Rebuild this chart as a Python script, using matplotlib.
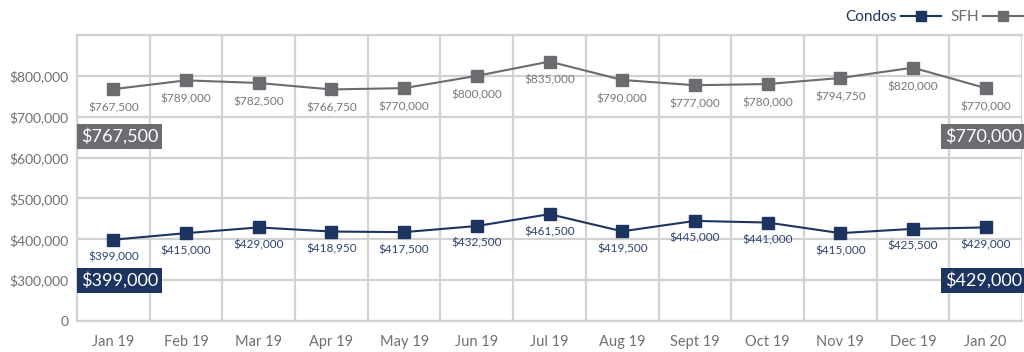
import numpy as np
import matplotlib
matplotlib.use("Agg")
import matplotlib.pyplot as plt
from matplotlib.lines import Line2D
import matplotlib.transforms as mtransforms

months = ["Jan 19", "Feb 19", "Mar 19", "Apr 19", "May 19", "Jun 19", "Jul 19",
          "Aug 19", "Sept 19", "Oct 19", "Nov 19", "Dec 19", "Jan 20"]
condos = [399000, 415000, 429000, 418950, 417500, 432500, 461500,
          419500, 445000, 441000, 415000, 425500, 429000]
sfh = [767500, 789000, 782500, 766750, 770000, 800000, 835000,
       790000, 777000, 780000, 794750, 820000, 770000]
yticks = [0, 300000, 400000, 500000, 600000, 700000, 800000, 900000]
ytick_labels = ["0", "$300,000", "$400,000", "$500,000", "$600,000",
                "$700,000", "$800,000", ""]

NAVY = "#1d3461"
GREY = "#6b6c70"
GRID = "#d2d2d2"
TXT = "#707070"
LBL_GREY = "#77787b"
LBL_NAVY = "#2c4470"

plt.rcParams['font.family'] = ['Lato', 'DejaVu Sans']

def fwd(v):
    v = np.asarray(v, dtype=float)
    return np.where(v < 300000, v / 300000.0, 1 + (v - 300000) / 100000.0)

def inv(p):
    p = np.asarray(p, dtype=float)
    return np.where(p < 1, p * 300000.0, 300000 + (p - 1) * 100000.0)

fig = plt.figure(figsize=(10.24, 3.52), dpi=100)
ax = fig.add_axes([77/1024, 1 - 321/352, (1022 - 77)/1024, (321 - 35)/352])
ax.set_yscale('function', functions=(fwd, inv))
ax.set_ylim(0, 900000)
ax.set_xlim(-0.5, len(months) - 0.5)

x = np.arange(len(months))
ax.plot(x, sfh, color=GREY, lw=1.5, marker='s', ms=9, mfc=GREY, mec=GREY, zorder=3)
ax.plot(x, condos, color=NAVY, lw=1.5, marker='s', ms=9, mfc=NAVY, mec=NAVY, zorder=3)

for xi, v in zip(x, sfh):
    ax.annotate(f"${v:,.0f}", (xi, v), xytext=(0, -13.5), textcoords='offset points',
                ha='center', va='center', fontsize=8.5, color=LBL_GREY)
for xi, v in zip(x, condos):
    ax.annotate(f"${v:,.0f}", (xi, v), xytext=(0, -12.5), textcoords='offset points',
                ha='center', va='center', fontsize=8.5, color=LBL_NAVY)

# grid
ax.set_yticks(yticks)
ax.set_yticklabels(ytick_labels)
ax.set_xticks(x)
ax.set_xticklabels(months)
ax.set_xticks(np.arange(-0.5, len(months), 1.0), minor=True)
ax.grid(True, which='minor', axis='x', color=GRID, lw=1.6)
ax.grid(True, which='major', axis='y', color=GRID, lw=1.6)
ax.set_axisbelow(True)
ax.tick_params(which='both', length=0)
ax.tick_params(axis='y', labelsize=10, labelcolor=TXT, pad=6)
ax.tick_params(axis='x', labelsize=10.5, labelcolor=TXT, pad=10)
ax.spines['right'].set_visible(False)
for s in ['left', 'bottom', 'top']:
    ax.spines[s].set_color(GRID)
    ax.spines[s].set_linewidth(1.6)

# big summary boxes
trans = mtransforms.blended_transform_factory(ax.transAxes, ax.transData)
box_kw = dict(fontsize=13, color='white', va='center', transform=trans)
lx = 4 / 945
ax.text(lx, 652000, f"${sfh[0]:,.0f}", ha='left',
        bbox=dict(boxstyle='square,pad=0.22', fc=GREY, ec='none'), **box_kw)
ax.text(lx, 300000, f"${condos[0]:,.0f}", ha='left',
        bbox=dict(boxstyle='square,pad=0.22', fc=NAVY, ec='none'), **box_kw)
ax.text(1.0, 652000, f"${sfh[-1]:,.0f}", ha='right',
        bbox=dict(boxstyle='square,pad=0.22', fc=GREY, ec='none'), **box_kw)
ax.text(1.0, 300000, f"${condos[-1]:,.0f}", ha='right',
        bbox=dict(boxstyle='square,pad=0.22', fc=NAVY, ec='none'), **box_kw)

handles = [Line2D([], [], color=NAVY, lw=1.5, marker='s', ms=7, mfc=NAVY, mec=NAVY),
           Line2D([], [], color=GREY, lw=1.5, marker='s', ms=7, mfc=GREY, mec=GREY)]
leg = fig.legend(handles, ["Condos", "SFH"], ncol=2, markerfirst=False, frameon=False,
                 loc='center right', bbox_to_anchor=(1.005, 1 - 17/352),
                 fontsize=11, handlelength=2.6, handletextpad=0.3, columnspacing=0.6,
                 borderaxespad=0)
for t, c in zip(leg.get_texts(), [NAVY, GREY]):
    t.set_color(c)

fig.savefig("out.png", dpi=100)
